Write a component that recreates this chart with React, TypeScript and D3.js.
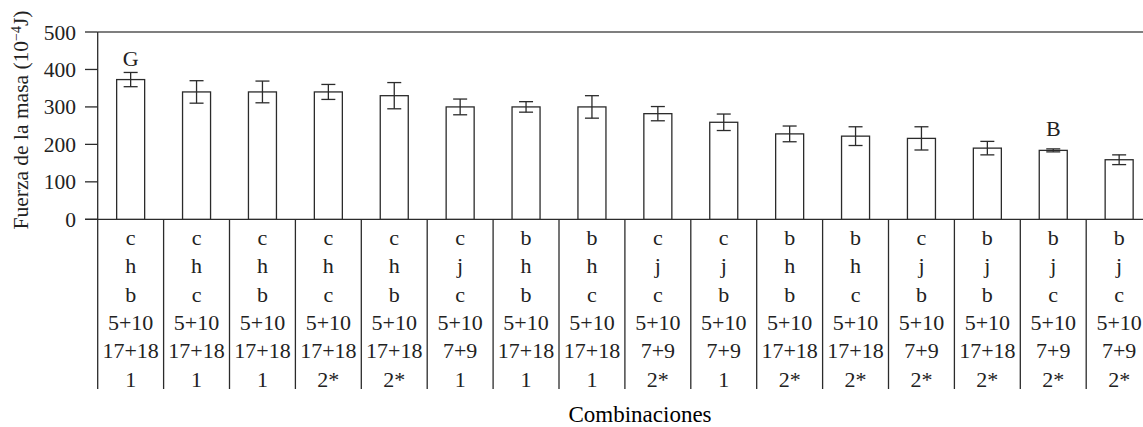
import React from "react";
import * as d3 from "d3";

// Mean dough strength per allele combination, with error bar half-widths
const values = [373, 340, 340, 340, 330, 300, 300, 300, 282, 259, 228, 222, 216, 190, 184, 159];
const errors = [19, 30, 29, 20, 35, 21, 14, 30, 19, 22, 21, 25, 31, 18, 4, 13];

// Allele combination table rows (one entry per bar)
const rowGluA3 = ["c", "c", "c", "c", "c", "c", "b", "b", "c", "c", "b", "b", "c", "b", "b", "b"];
const rowGluB3 = ["h", "h", "h", "h", "h", "j", "h", "h", "j", "j", "h", "h", "j", "j", "j", "j"];
const rowGluD3 = ["b", "c", "b", "c", "b", "c", "b", "c", "c", "b", "b", "c", "b", "b", "c", "c"];
const rowGluD1 = ["5+10", "5+10", "5+10", "5+10", "5+10", "5+10", "5+10", "5+10", "5+10", "5+10", "5+10", "5+10", "5+10", "5+10", "5+10", "5+10"];
const rowGluB1 = ["17+18", "17+18", "17+18", "17+18", "17+18", "7+9", "17+18", "17+18", "7+9", "7+9", "17+18", "17+18", "7+9", "17+18", "7+9", "7+9"];
const rowGluA1 = ["1", "1", "1", "2*", "2*", "1", "1", "1", "2*", "1", "2*", "2*", "2*", "2*", "2*", "2*"];

// Letters marking the extreme groups
const markers = [
  { index: 0, text: "G" },
  { index: 14, text: "B" },
];

const yTicks = [0, 100, 200, 300, 400, 500];

const W = 1143;
const H = 427;
const FONT = "'Liberation Serif', 'Times New Roman', serif";
const INK = "#2b2b2b";

export default function App() {
  const left = 97.7;
  const step = 65.9;
  const idx = values.map((_, i) => i);
  const x = d3
    .scaleBand<number>()
    .domain(idx)
    .range([left, left + step * values.length])
    .paddingInner(0.575)
    .paddingOuter(0.2875);
  const y = d3.scaleLinear().domain([0, 500]).range([219.3, 32]);

  const rows = [rowGluA3, rowGluB3, rowGluD3, rowGluD1, rowGluB1, rowGluA1];
  const rowBase = [245, 273.3, 301.6, 330, 358.3, 386.6];
  const tableBottom = 389;
  const bw = x.bandwidth();
  const cap = 7;
  const gap = (x.step() * x.paddingInner()) / 2;

  return (
    <svg width={W} height={H} style={{ position: "absolute", left: 0, top: 0 }} fontFamily={FONT}>
      <rect width={W} height={H} fill="#fff" />
      {/* frame: top border and baseline */}
      <line x1={left} x2={W} y1={y(500)} y2={y(500)} stroke="#555" strokeWidth={1.3} />
      <line x1={85} x2={W} y1={y(0)} y2={y(0)} stroke={INK} strokeWidth={1.3} />
      <line x1={left} x2={left} y1={y(500)} y2={tableBottom} stroke={INK} strokeWidth={1.3} />

      {/* y axis ticks and labels */}
      {yTicks.map((t) => (
        <g key={t}>
          <line x1={85} x2={left} y1={y(t)} y2={y(t)} stroke={INK} strokeWidth={1.3} />
          <text x={76} y={y(t)} dy="0.35em" textAnchor="end" fontSize={21.5} fill="#222">
            {t}
          </text>
        </g>
      ))}
      <text
        transform="translate(28,120) rotate(-90)"
        textAnchor="middle"
        fontSize={21.5}
        fill="#222"
      >
        Fuerza de la masa (10<tspan dy="-7" fontSize={14}>−4</tspan>
        <tspan dy="7">J)</tspan>
      </text>

      {/* bars with error bars */}
      {values.map((v, i) => {
        const x0 = x(i)!;
        const cx = x0 + bw / 2;
        const e = errors[i];
        return (
          <g key={i}>
            <rect x={x0} y={y(v)} width={bw} height={y(0) - y(v)} fill="#fff" stroke={INK} strokeWidth={1.3} />
            <line x1={cx} x2={cx} y1={y(v + e)} y2={y(v - e)} stroke={INK} strokeWidth={1.3} />
            <line x1={cx - cap} x2={cx + cap} y1={y(v + e)} y2={y(v + e)} stroke={INK} strokeWidth={1.3} />
            <line x1={cx - cap} x2={cx + cap} y1={y(v - e)} y2={y(v - e)} stroke={INK} strokeWidth={1.3} />
          </g>
        );
      })}

      {/* group letters sit a fixed distance above the bar top */}
      {markers.map((m) => (
        <text
          key={m.text}
          x={x(m.index)! + bw / 2}
          y={y(values[m.index]) - 14}
          textAnchor="middle"
          fontSize={22}
          fill="#222"
        >
          {m.text}
        </text>
      ))}

      {/* combination table under the axis */}
      {idx.slice(1).map((i) => (
        <line key={i} x1={x(i)! - gap} x2={x(i)! - gap} y1={y(0)} y2={tableBottom} stroke={INK} strokeWidth={1.3} />
      ))}
      {rows.map((row, r) =>
        row.map((label, i) => (
          <text
            key={`${r}-${i}`}
            x={x(i)! + bw / 2}
            y={rowBase[r]}
            textAnchor="middle"
            fontSize={22}
            fill="#222"
          >
            {label}
          </text>
        ))
      )}

      <text x={640} y={422} textAnchor="middle" fontSize={23}>
        Combinaciones
      </text>
    </svg>
  );
}
